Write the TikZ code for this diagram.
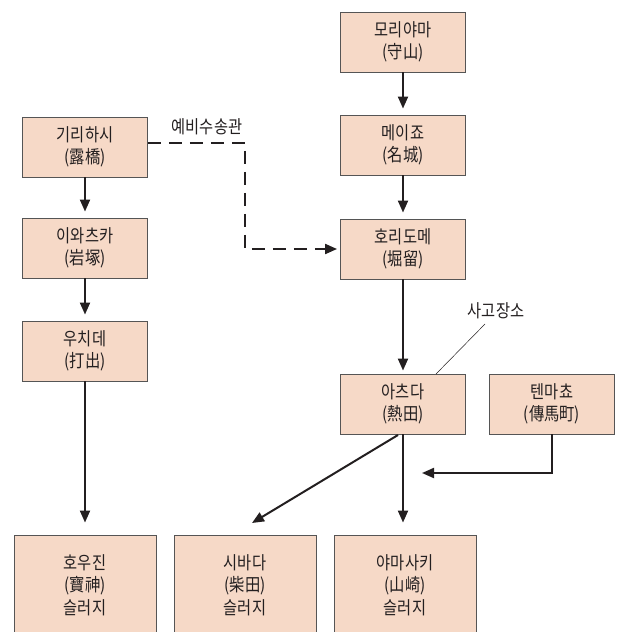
\documentclass[tikz,border=0pt]{standalone}
\usepackage{fontspec}
\setmainfont{Noto Sans CJK KR}[FakeStretch=0.85]
\usetikzlibrary{arrows.meta}
\definecolor{boxfill}{RGB}{246,217,199}
\definecolor{boxline}{RGB}{85,85,85}
\definecolor{ink}{RGB}{35,31,32}
\begin{document}
\begin{tikzpicture}[x=1pt,y=-1pt,
  box/.style={draw=boxline,line width=0.9pt,fill=boxfill,minimum width=125pt,minimum height=60pt,inner sep=0pt,align=center,font=\fontsize{18}{22.5}\selectfont,text=ink},
  bigbox/.style={box,minimum width=142pt,minimum height=100pt},
  flow/.style={draw=ink,line width=2pt,-{Triangle[length=12pt,width=10pt]}},
  pipe/.style={flow,dash pattern=on 13pt off 8pt},
  lbl/.style={font=\fontsize{18}{20}\selectfont,text=ink,inner sep=1pt}]
\useasboundingbox (0,0) rectangle (619,632);
\clip (0,0) rectangle (619,632);
% nodes
\node[box] (mori) at (403,42) {모리야마\\(守山)};
\node[box] (meijo) at (403,145) {메이죠\\(名城)};
\node[box] (hori) at (403,249) {호리도메\\(堀留)};
\node[box] (atsu) at (403,404) {아츠다\\(熱田)};
\node[box] (tenma) at (552,404) {텐마쵸\\(傳馬町)};
\node[box] (kiri) at (85,147) {기리하시\\(露橋)};
\node[box] (iwa) at (85,248) {이와츠카\\(岩塚)};
\node[box] (uchi) at (85,351) {우치데\\(打出)};
\node[bigbox] (hou) at (85,585) {호우진\\(寶神)\\슬러지};
\node[bigbox] (shiba) at (245,585) {시바다\\(柴田)\\슬러지};
\node[bigbox] (yama) at (405,585) {야마사키\\(山崎)\\슬러지};
\node[lbl] (pipelbl) at (207,127) {예비수송관};
\node[lbl] (acc) at (496,311) {사고장소};
% helper coordinates
\coordinate (dbend) at (245,143);
\coordinate (tend) at (422,473);
\coordinate (dstart) at (398,435);
\coordinate (dend) at (252,523);
\coordinate (accfoot) at (436,374);
\coordinate (accstart) at (485,324);
% connectors
\draw[flow,shorten >=6pt] (mori.south) -- (meijo.north);
\draw[flow,shorten >=6pt] (meijo.south) -- (hori.north);
\draw[flow,shorten >=3pt] (hori.south) -- (atsu.north);
\draw[flow,shorten >=6pt] (kiri.south) -- (iwa.north);
\draw[flow,shorten >=6pt] (iwa.south) -- (uchi.north);
\draw[flow,shorten >=12pt] (uchi.south) -- (hou.north);
\draw[flow,shorten >=12pt] (atsu.south) -- (yama.north -| atsu.south);
\draw[flow] (dstart) -- (dend);
\draw[flow] (tenma.south) |- (tend);
\draw[pipe,shorten >=3pt] ([yshift=4pt]kiri.east) -- (dbend) |- (hori.west);
\draw[ink,line width=0.5pt] (accstart) -- (accfoot);
\end{tikzpicture}
\end{document}
